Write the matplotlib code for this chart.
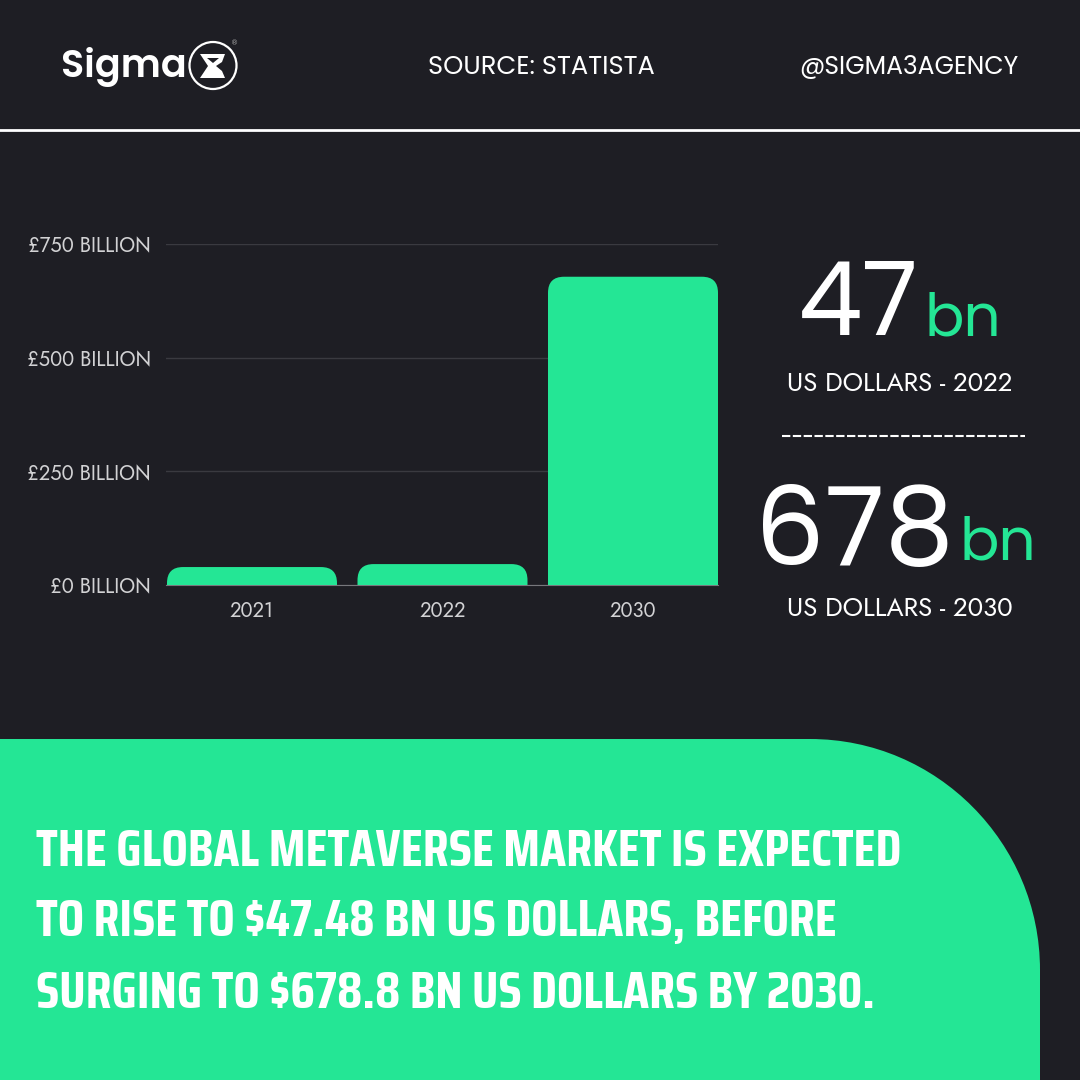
import matplotlib
matplotlib.use("Agg")
import matplotlib.pyplot as plt
from matplotlib.patches import FancyBboxPatch, PathPatch, Circle, Polygon
from matplotlib.path import Path
from matplotlib import font_manager as fm

years = ["2021", "2022", "2030"]
market_bn = [39.5, 46, 678]
tick_vals = [0, 250, 500, 750]
tick_labels = ["£0 BILLION", "£250 BILLION", "£500 BILLION", "£750 BILLION"]
headline = ["THE GLOBAL METAVERSE MARKET IS EXPECTED",
            "TO RISE TO $47.48 BN US DOLLARS, BEFORE",
            "SURGING TO $678.8 BN US DOLLARS BY 2030."]

BG = "#1E1E24"
GREEN = "#24E695"
names = {f.name for f in fm.fontManager.ttflist}

def pick(*cands):
    for c in cands:
        if c in names:
            return c
    return "DejaVu Sans"

narrow = pick("Saira Condensed", "Saira ExtraCondensed", "Liberation Sans Narrow")
geo = pick("Jost", "Questrial", "Lato")
big = pick("Poppins", "Lato")

fig = plt.figure(figsize=(10.8, 10.8), dpi=100, facecolor=BG)

# overlay in pixel coords for the poster stuff
bg = fig.add_axes([0, 0, 1, 1])
bg.set_xlim(0, 1080)
bg.set_ylim(1080, 0)
bg.axis("off")

bg.plot([0, 1080], [130, 130], color="white", lw=2)

# green panel, top right corner rounded
k = 0.5523 * 230
verts = [(0, 739), (810, 739), (810 + k, 739), (1040, 970 - k), (1040, 970),
         (1040, 1080), (0, 1080), (0, 739)]
codes = [Path.MOVETO, Path.LINETO, Path.CURVE4, Path.CURVE4, Path.CURVE4,
         Path.LINETO, Path.LINETO, Path.CLOSEPOLY]
bg.add_patch(PathPatch(Path(verts, codes), fc=GREEN, ec="none"))

for i, line in enumerate(headline):
    bg.text(36, 851 + i * 71, line, color="white", fontsize=37.6, fontweight="bold",
            family=narrow, va="center", ha="left")

# logo
bg.text(61, 67, "Sigma", color="white", fontsize=27.5, fontweight="semibold",
        family=big, va="center", ha="left")
bg.add_patch(Circle((213, 65.5), 23.5, fc="none", ec="white", lw=1.6))
bg.add_patch(Polygon([(200, 54), (225, 54), (222, 62), (216, 66), (222, 71), (225, 78),
                      (200, 78), (208, 66)], fc="white", ec="none"))
bg.add_patch(Polygon([(207, 58), (219, 58), (213, 63)], fc=BG, ec="none"))
bg.text(235, 43, "®", color="#aaaaaa", fontsize=5, ha="center", va="center")

bg.text(541, 68, "SOURCE: STATISTA", color="white", fontsize=18.5, family=big,
        ha="center", va="center")
bg.text(909, 68, "@SIGMA3AGENCY", color="white", fontsize=18, family=big,
        ha="center", va="center")

# right column numbers
bg.text(858, 335, "47", color="white", fontsize=74, family=big, fontweight="normal",
        ha="center", va="baseline")
bg.text(963, 335, "bn", color=GREEN, fontsize=42, family=big, fontweight="normal",
        ha="center", va="baseline")
bg.text(900, 384, "US DOLLARS - 2022", color="white", fontsize=18.6, family=geo,
        ha="center", va="center")
bg.plot([782, 1025], [436, 436], color="white", lw=1.5, dashes=(4, 1.2))
bg.text(854, 565, "678", color="white", fontsize=79, family=big, fontweight="normal",
        ha="center", va="baseline")
bg.text(998, 560, "bn", color=GREEN, fontsize=42, family=big, fontweight="normal",
        ha="center", va="baseline")
bg.text(900, 609, "US DOLLARS - 2030", color="white", fontsize=18.6, family=geo,
        ha="center", va="center")

# the chart, category spacing is 190.5 px
ax = fig.add_axes([166 / 1080, 1 - 585 / 1080, 552 / 1080, 341 / 1080])
ax.patch.set_alpha(0)
ax.set_xlim(-86 / 190.5, 466 / 190.5)
ax.set_ylim(0, 750)
ax.set_yticks(tick_vals)
ax.set_yticklabels(tick_labels)
ax.set_xticks(range(len(years)))
ax.set_xticklabels(years)
ax.tick_params(length=0, labelsize=14.5, labelcolor="#D2D2D4", pad=11)
ax.tick_params(axis="x", pad=11)
for lab in ax.get_xticklabels() + ax.get_yticklabels():
    lab.set_family(geo)
ax.grid(axis="y", color="#3A3A40", lw=1)
ax.set_axisbelow(True)
for s in ["top", "left", "right"]:
    ax.spines[s].set_visible(False)
ax.spines["bottom"].set_color("#77777C")

w = 170 / 190.5
px_x = 1 / 190.5
px_y = 750 / 341
r = 16 * px_x
for i, v in enumerate(market_bn):
    # box starts below zero, the axes clip squares off the bottom corners
    ax.add_patch(FancyBboxPatch((i - w / 2, -50), w, v + 50,
                                boxstyle=f"round,pad=0,rounding_size={r}",
                                mutation_aspect=px_y / px_x, fc=GREEN, ec="none", zorder=3))

fig.savefig("out.png", dpi=100, facecolor=BG)
